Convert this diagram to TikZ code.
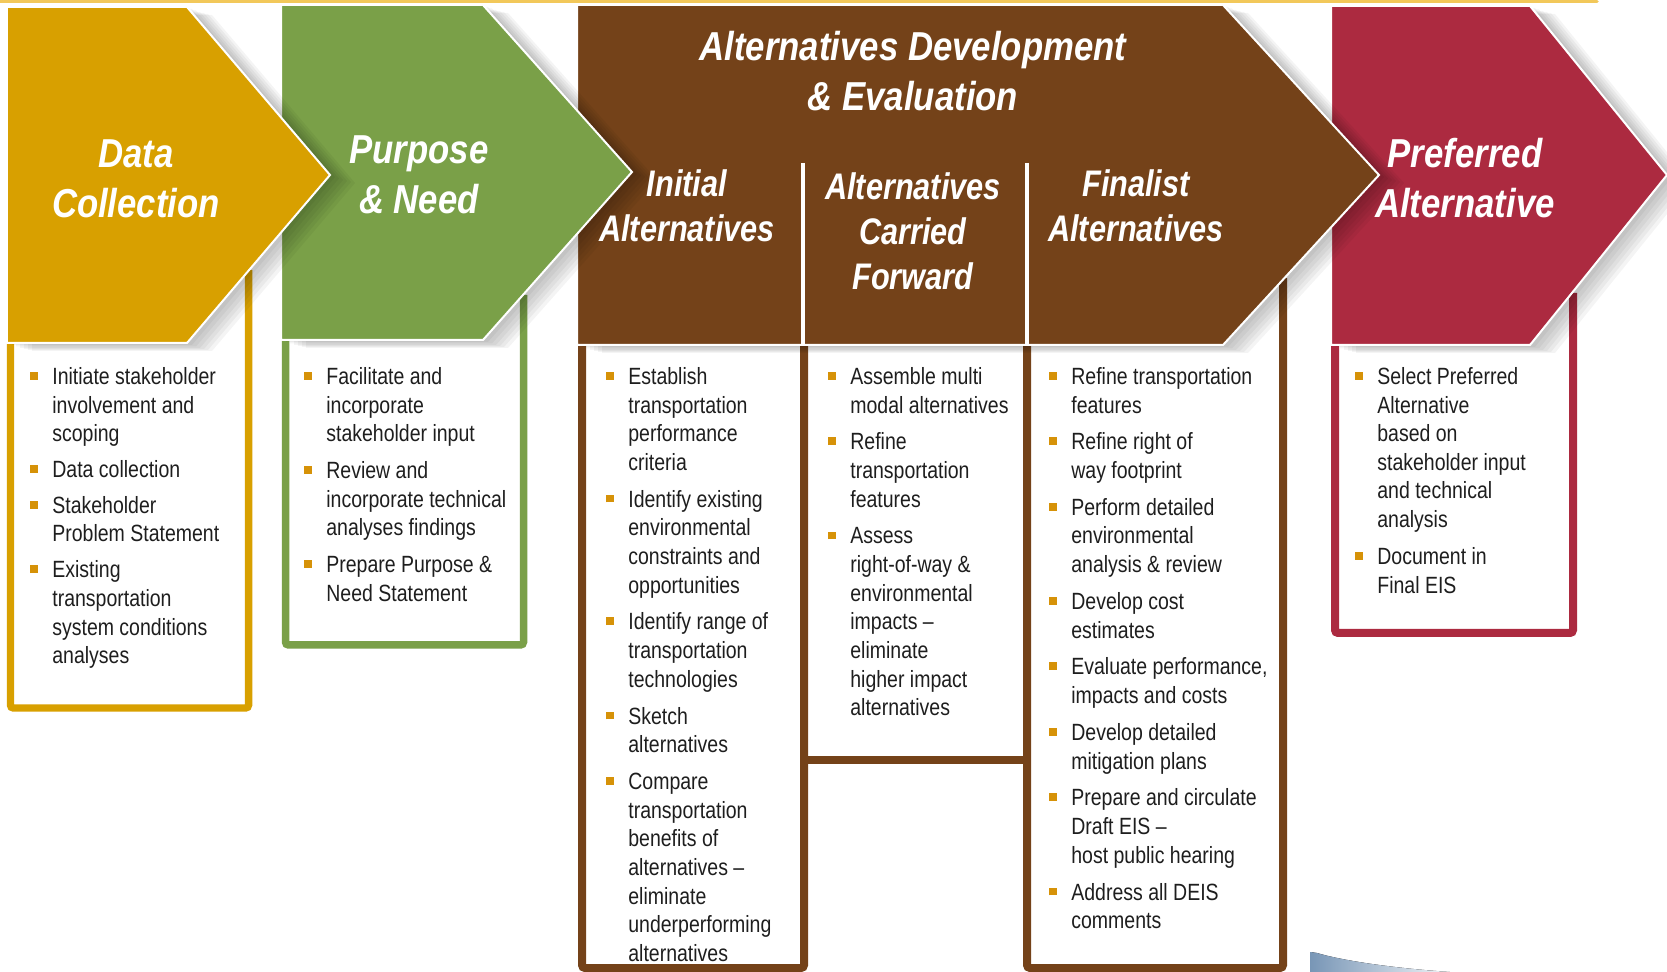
\documentclass[tikz,border=0pt]{standalone}
\usepackage{fontspec}
\setmainfont{Liberation Sans}
\newfontfamily\narrowsf[FakeStretch=0.83]{Liberation Sans}
\newfontfamily\titlesf[FakeStretch=0.86]{Liberation Sans}
\usetikzlibrary{positioning,shadows}

\definecolor{dcgold}{RGB}{216,160,0}
\definecolor{pngreen}{RGB}{122,160,72}
\definecolor{altbrown}{RGB}{116,66,25}
\definecolor{prefred}{RGB}{172,42,64}
\definecolor{bulletc}{RGB}{214,146,8}
\definecolor{bodytext}{RGB}{30,30,30}
\definecolor{topline}{RGB}{242,200,90}
\definecolor{bluegray}{RGB}{120,150,182}

% small orange square in front of each item
\newcommand{\bul}{\strut\llap{\textcolor{bulletc}{\rule[2.7pt]{4.4pt}{4.4pt}}\hspace{8.3pt}}}

\begin{document}
\begin{tikzpicture}[
    x=0.02cm, y=-0.02cm,
    chev/.style={draw=white, line width=0.04cm,
        general shadow={fill=black, opacity=.045, shadow xshift=.50cm, shadow yshift=-.16cm},
        general shadow={fill=black, opacity=.045, shadow xshift=.42cm, shadow yshift=-.14cm},
        general shadow={fill=black, opacity=.045, shadow xshift=.34cm, shadow yshift=-.12cm},
        general shadow={fill=black, opacity=.045, shadow xshift=.26cm, shadow yshift=-.10cm},
        general shadow={fill=black, opacity=.045, shadow xshift=.18cm, shadow yshift=-.07cm},
        general shadow={fill=black, opacity=.045, shadow xshift=.10cm, shadow yshift=-.04cm}},
    frame/.style={line width=0.15cm, rounded corners=0.06cm},
    ttl/.style={align=center, text=white, inner sep=0pt, anchor=north,
        font=\titlesf\bfseries\itshape\fontsize{23}{28.45}\selectfont},
    subttl/.style={ttl, font=\narrowsf\bfseries\itshape\fontsize{21.05}{25.6}\selectfont},
    item/.style={anchor=north west, align=left, inner sep=0pt, text=bodytext,
        font=\narrowsf\fontsize{13.37}{16.3}\selectfont}
]
\useasboundingbox (0,0) rectangle (1667,972);

% thin frame line at the top
\draw[topline, line width=0.07cm, line cap=round] (0,1.5) -- (1597,1.5);

% boxes under the arrows
\draw[frame, dcgold] (10.5,270) -- (10.5,708) -- (248.5,708) -- (248.5,270);
\draw[frame, pngreen] (285.5,295) -- (285.5,645) -- (523.5,645) -- (523.5,295);
\draw[frame, altbrown, line width=0.16cm] (582,330) -- (582,968) -- (804,968) -- (804,330);
\draw[frame, altbrown, line width=0.16cm] (1027,330) -- (1027,968) -- (1283,968) -- (1283,278);
\draw[altbrown, line width=0.16cm] (804,760) -- (1027,760);
\draw[frame, prefred, line width=0.16cm] (1335,293) -- (1335,633) -- (1573,633) -- (1573,293);

% arrows, right to left so each tip lies on the next one
\fill[chev, fill=prefred] (1331,6) -- (1530,6) -- (1667,175) -- (1530,345) -- (1331,345) -- cycle;
\fill[chev, fill=altbrown] (577,5) -- (1223,5) -- (1379,175) -- (1223,345) -- (577,345) -- cycle;
\fill[chev, fill=pngreen] (281,5) -- (483,5) -- (632,172) -- (483,340) -- (281,340) -- cycle;
\fill[chev, fill=dcgold] (7,7) -- (187,7) -- (330,175) -- (187,343) -- (7,343) -- cycle;
\draw[white, line width=0.08cm] (803,163) -- (803,345);
\draw[white, line width=0.08cm] (1027,163) -- (1027,345);

% headings
\node[ttl] (dctitle) at (136,132) {\strut Data\\Collection};
\node[ttl] (pntitle) at (419,128) {\strut Purpose\\\& Need};
\node[ttl] (alttitle) at (913,25) {\strut Alternatives Development\\\& Evaluation};
\node[subttl] (initial) at (687,165) {\strut Initial\\Alternatives};
\node[subttl] (carried) at (913,168) {\strut Alternatives\\Carried\\Forward};
\node[subttl] (finalist) at (1136,165) {\strut Finalist\\Alternatives};
\node[ttl] (preftitle) at (1465,132) {\strut Preferred\\Alternative};

% Data Collection
\node[item] (dc1) at (52,364) {\bul Initiate stakeholder\\involvement and\\scoping\strut};
\node[item, below=0.13cm of dc1.south west, anchor=north west] (dc2) {\bul Data collection\strut};
\node[item, below=0.13cm of dc2.south west, anchor=north west] (dc3) {\bul Stakeholder\\Problem Statement\strut};
\node[item, below=0.13cm of dc3.south west, anchor=north west] (dc4) {\bul Existing\\transportation\\system conditions\\analyses\strut};

% Purpose & Need
\node[item] (pn1) at (326,364) {\bul Facilitate and\\incorporate\\stakeholder input\strut};
\node[item, below=0.15cm of pn1.south west, anchor=north west] (pn2) {\bul Review and\\incorporate technical\\analyses findings\strut};
\node[item, below=0.15cm of pn2.south west, anchor=north west] (pn3) {\bul Prepare Purpose \&\\Need Statement\strut};

% Initial Alternatives
\node[item] (ia1) at (628,364) {\bul Establish\\transportation\\performance\\criteria\strut};
\node[item, below=0.15cm of ia1.south west, anchor=north west] (ia2) {\bul Identify existing\\environmental\\constraints and\\opportunities\strut};
\node[item, below=0.15cm of ia2.south west, anchor=north west] (ia3) {\bul Identify range of\\transportation\\technologies\strut};
\node[item, below=0.15cm of ia3.south west, anchor=north west] (ia4) {\bul Sketch\\alternatives\strut};
\node[item, below=0.15cm of ia4.south west, anchor=north west] (ia5) {\bul Compare\\transportation\\benefits of\\alternatives –\\eliminate\\underperforming\\alternatives\strut};

% Alternatives Carried Forward
\node[item] (cf1) at (850,364) {\bul Assemble multi\\modal alternatives\strut};
\node[item, below=0.15cm of cf1.south west, anchor=north west] (cf2) {\bul Refine\\transportation\\features\strut};
\node[item, below=0.15cm of cf2.south west, anchor=north west] (cf3) {\bul Assess\\right-of-way \&\\environmental\\impacts –\\eliminate\\higher impact\\alternatives\strut};

% Finalist Alternatives
\node[item] (fa1) at (1071,364) {\bul Refine transportation\\features\strut};
\node[item, below=0.15cm of fa1.south west, anchor=north west] (fa2) {\bul Refine right of\\way footprint\strut};
\node[item, below=0.15cm of fa2.south west, anchor=north west] (fa3) {\bul Perform detailed\\environmental\\analysis \& review\strut};
\node[item, below=0.15cm of fa3.south west, anchor=north west] (fa4) {\bul Develop cost\\estimates\strut};
\node[item, below=0.15cm of fa4.south west, anchor=north west] (fa5) {\bul Evaluate performance,\\impacts and costs\strut};
\node[item, below=0.15cm of fa5.south west, anchor=north west] (fa6) {\bul Develop detailed\\mitigation plans\strut};
\node[item, below=0.15cm of fa6.south west, anchor=north west] (fa7) {\bul Prepare and circulate\\Draft EIS –\\host public hearing\strut};
\node[item, below=0.15cm of fa7.south west, anchor=north west] (fa8) {\bul Address all DEIS\\comments\strut};

% Preferred Alternative
\node[item] (pa1) at (1377,364) {\bul Select Preferred\\Alternative\\based on\\stakeholder input\\and technical\\analysis\strut};
\node[item, below=0.15cm of pa1.south west, anchor=north west] (pa2) {\bul Document in\\Final EIS\strut};

% piece of a figure cut off at the lower edge
\fill[left color=bluegray, right color=bluegray!10] (1310,952) -- (1317,953)
    .. controls (1340,960) and (1390,968) .. (1450,972) -- (1310,972) -- cycle;
\end{tikzpicture}
\end{document}
